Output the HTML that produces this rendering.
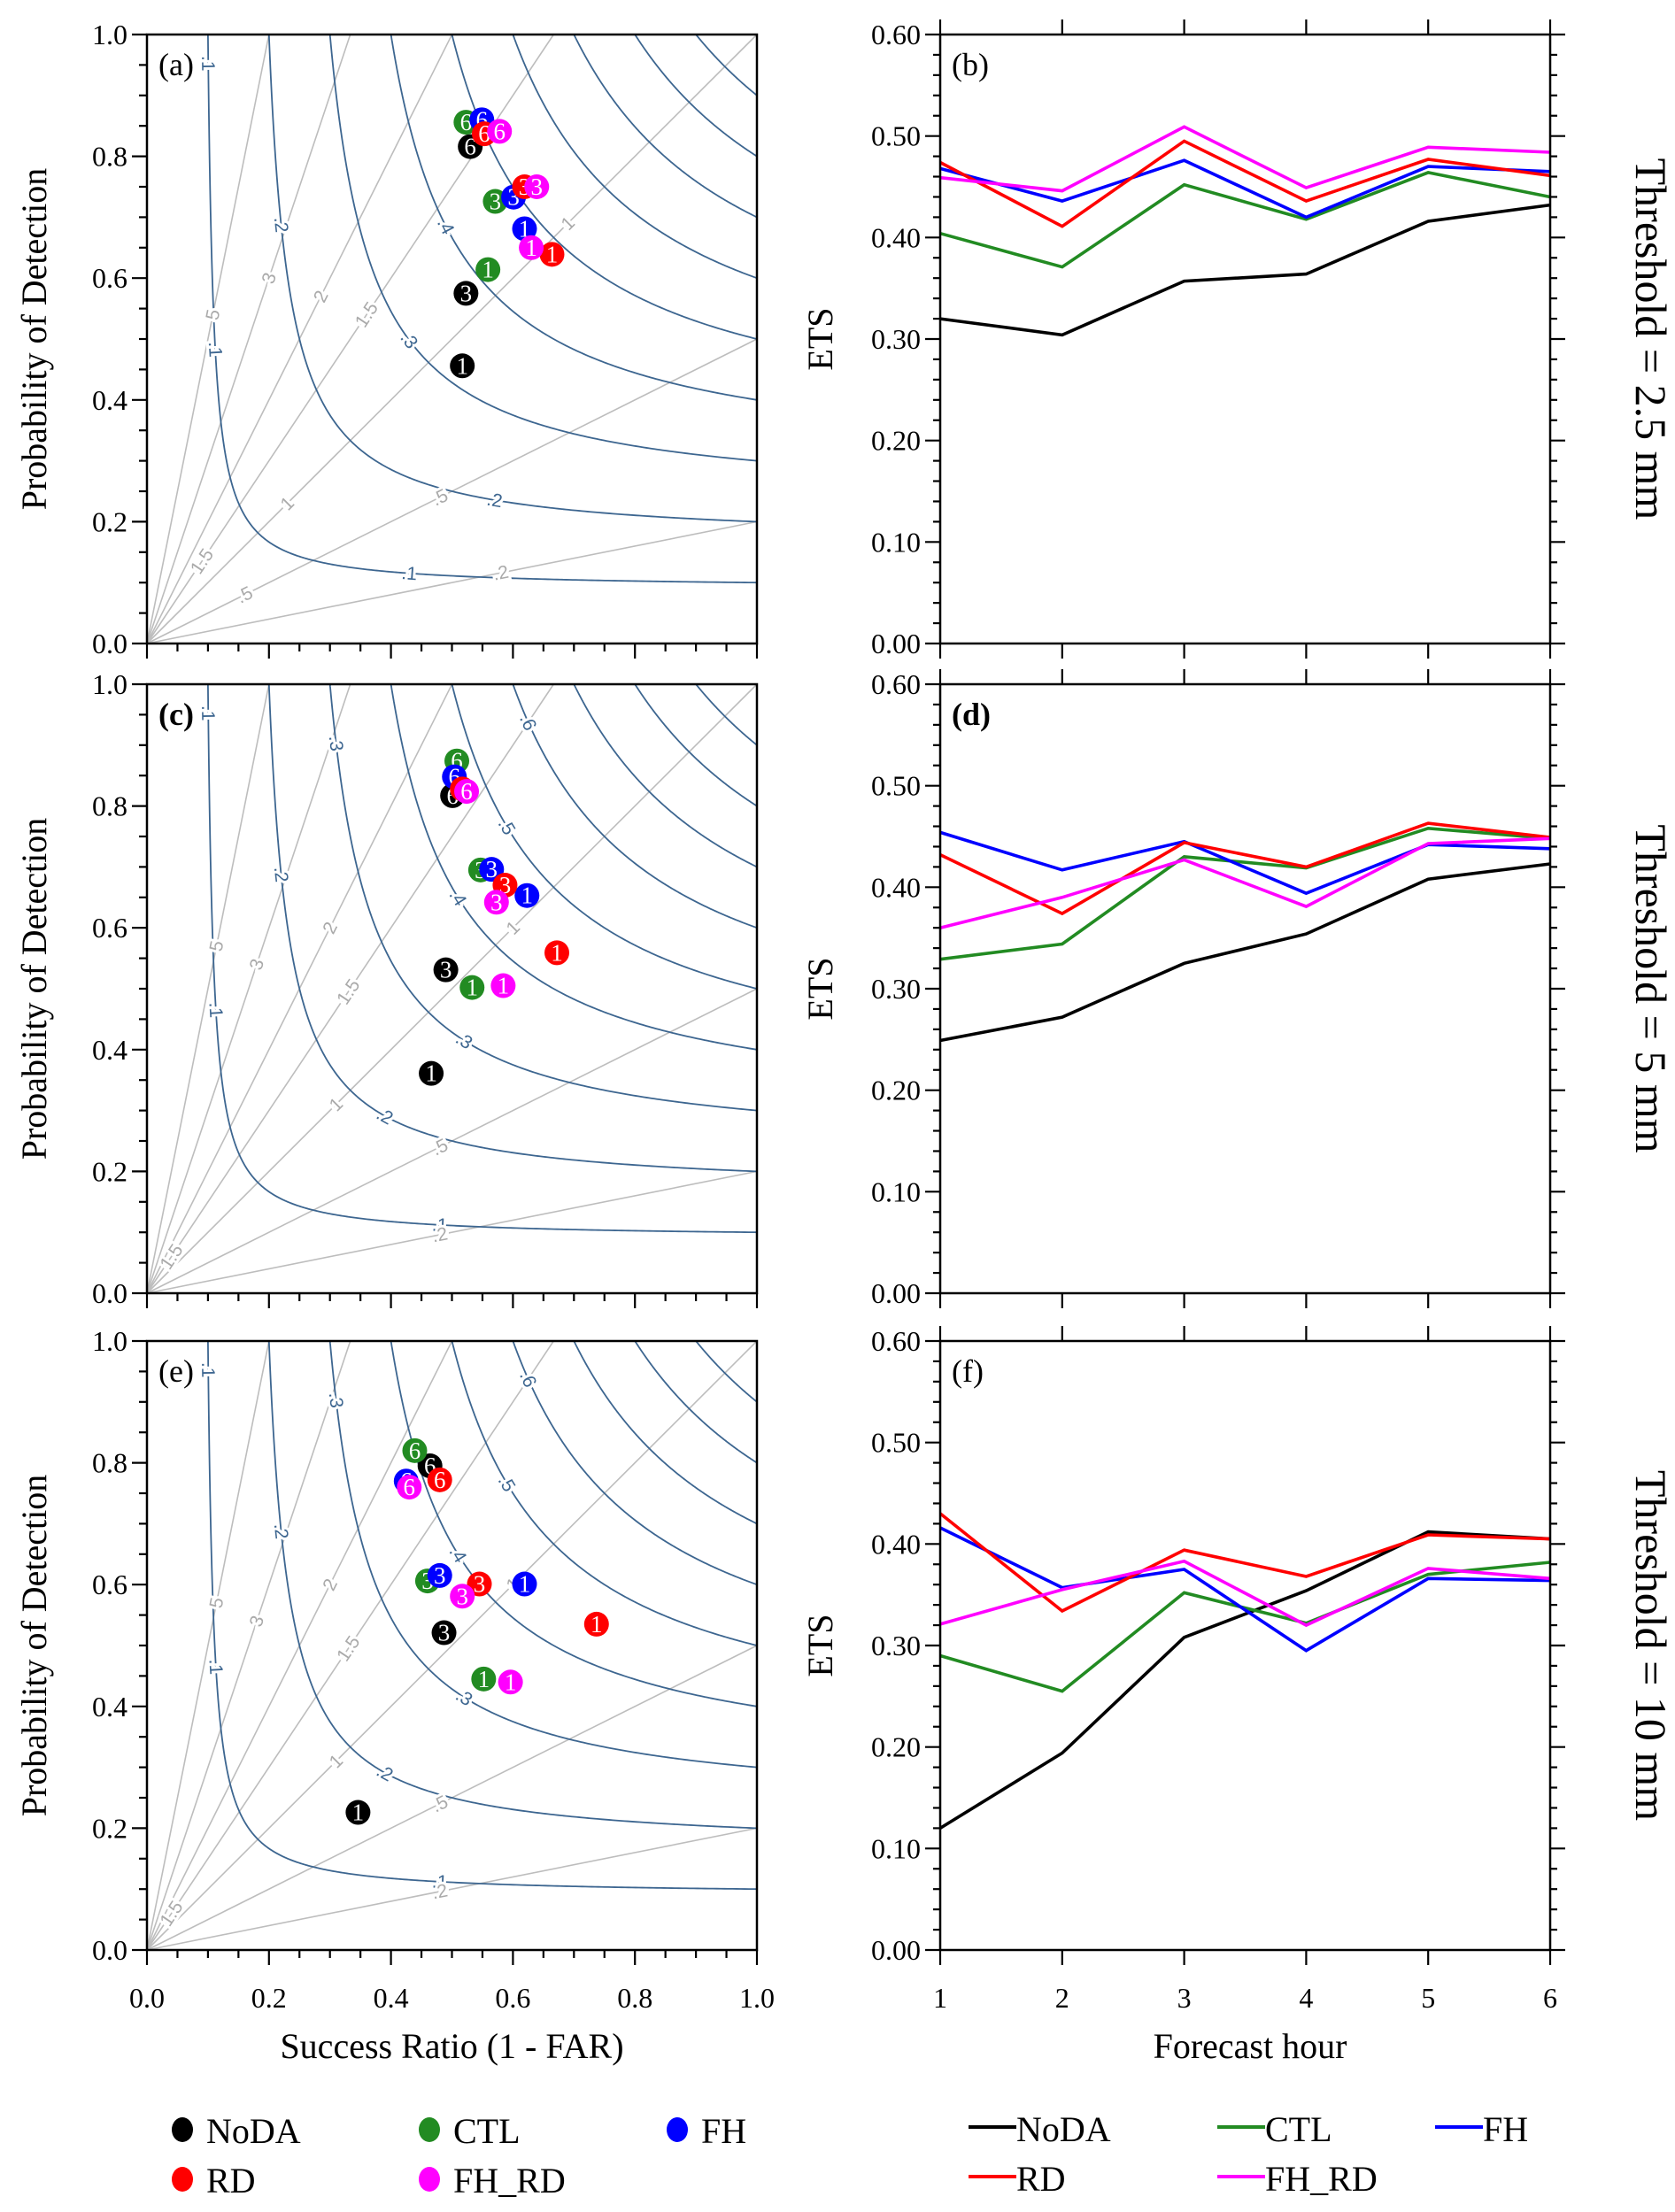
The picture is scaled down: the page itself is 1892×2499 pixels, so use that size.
<!DOCTYPE html>
<html><head><meta charset="utf-8"><title>Performance diagrams and ETS</title>
<style>
html,body{margin:0;padding:0;background:#fff;}
svg{display:block;font-family:"Liberation Serif",serif;}
</style></head>
<body>
<svg id="fig" width="1892" height="2499" viewBox="0 0 1892 2499" xmlns="http://www.w3.org/2000/svg"></svg>
<script>
// ---------- data ----------
const leadHours = [1, 3, 6];
const forecastHours = [1, 2, 3, 4, 5, 6];
const seriesNames = ["NoDA", "CTL", "FH", "RD", "FH_RD"];
const seriesColors = ["#000000", "#228B22", "#0000FF", "#FF0000", "#FF00FF"];
const perfTicks = ["0.0", "0.2", "0.4", "0.6", "0.8", "1.0"];
const etsTicks = ["0.00", "0.10", "0.20", "0.30", "0.40", "0.50", "0.60"];
const csiLevels = [0.1, 0.2, 0.3, 0.4, 0.5, 0.6, 0.7, 0.8, 0.9];
const biasLevels = [0.2, 0.5, 1, 1.5, 2, 3, 5];
const thresholds = ["Threshold = 2.5 mm", "Threshold = 5 mm", "Threshold = 10 mm"];

// panel (a): success ratio / POD for leads 1,3,6
const srA_NoDA = [0.517, 0.523, 0.530];  const podA_NoDA = [0.456, 0.575, 0.816];
const srA_CTL = [0.559, 0.571, 0.523];   const podA_CTL = [0.614, 0.726, 0.856];
const srA_FH = [0.619, 0.601, 0.549];    const podA_FH = [0.681, 0.733, 0.860];
const srA_RD = [0.664, 0.619, 0.553];    const podA_RD = [0.639, 0.750, 0.837];
const srA_FHRD = [0.630, 0.639, 0.578];  const podA_FHRD = [0.650, 0.750, 0.841];
// panel (c)
const srC_NoDA = [0.466, 0.490, 0.501];  const podC_NoDA = [0.361, 0.531, 0.817];
const srC_CTL = [0.533, 0.547, 0.508];   const podC_CTL = [0.502, 0.695, 0.874];
const srC_FH = [0.623, 0.565, 0.504];    const podC_FH = [0.653, 0.696, 0.848];
const srC_RD = [0.672, 0.587, 0.517];    const podC_RD = [0.559, 0.670, 0.828];
const srC_FHRD = [0.584, 0.573, 0.524];  const podC_FHRD = [0.505, 0.642, 0.824];
// panel (e)
const srE_NoDA = [0.346, 0.487, 0.464];  const podE_NoDA = [0.226, 0.521, 0.795];
const srE_CTL = [0.552, 0.460, 0.439];   const podE_CTL = [0.445, 0.606, 0.820];
const srE_FH = [0.619, 0.480, 0.425];    const podE_FH = [0.601, 0.615, 0.770];
const srE_RD = [0.737, 0.545, 0.480];    const podE_RD = [0.535, 0.601, 0.772];
const srE_FHRD = [0.596, 0.517, 0.430];  const podE_FHRD = [0.440, 0.581, 0.760];

// ETS panels
const etsB_NoDA = [0.320, 0.304, 0.357, 0.364, 0.416, 0.432];
const etsB_CTL = [0.404, 0.371, 0.452, 0.418, 0.464, 0.440];
const etsB_FH = [0.468, 0.436, 0.476, 0.420, 0.470, 0.465];
const etsB_RD = [0.474, 0.411, 0.495, 0.436, 0.477, 0.461];
const etsB_FHRD = [0.459, 0.446, 0.509, 0.449, 0.489, 0.484];
const etsD_NoDA = [0.249, 0.272, 0.325, 0.354, 0.408, 0.423];
const etsD_CTL = [0.329, 0.344, 0.430, 0.419, 0.458, 0.448];
const etsD_FH = [0.454, 0.417, 0.445, 0.394, 0.442, 0.438];
const etsD_RD = [0.432, 0.374, 0.444, 0.420, 0.463, 0.449];
const etsD_FHRD = [0.360, 0.390, 0.427, 0.381, 0.443, 0.448];
const etsF_NoDA = [0.120, 0.194, 0.308, 0.354, 0.412, 0.405];
const etsF_CTL = [0.290, 0.255, 0.352, 0.322, 0.370, 0.382];
const etsF_FH = [0.416, 0.357, 0.375, 0.295, 0.366, 0.364];
const etsF_RD = [0.430, 0.334, 0.394, 0.368, 0.409, 0.405];
const etsF_FHRD = [0.321, 0.355, 0.383, 0.320, 0.376, 0.366];

// ---------- layout ----------
const NS = "http://www.w3.org/2000/svg";
const svg = document.getElementById("fig");
const LX0 = 166, LX1 = 855, RX0 = 1062, RX1 = 1751;
const TOPS = [39, 773, 1515], PH = 688;
const CSI_COL = "#3d6690", BIAS_COL = "#bdbdbd";

function mk(tag, attrs, parent) {
  const e = document.createElementNS(NS, tag);
  for (const k in attrs) e.setAttribute(k, attrs[k]);
  (parent || svg).appendChild(e);
  return e;
}
function txt(str, attrs, parent) { const t = mk("text", attrs, parent); t.textContent = str; return t; }

function sx(v) { return LX0 + v * (LX1 - LX0); }
function py(v, top) { return top + PH - v * PH; }
function hx(h) { return RX0 + (h - 1) / 5 * (RX1 - RX0); }
function ey(v, top) { return top + PH - v / 0.6 * PH; }
function csiPod(c, s) { return 1 / (1 / c + 1 - 1 / s); }

const perfSets = [
  [[srA_NoDA, podA_NoDA], [srA_CTL, podA_CTL], [srA_FH, podA_FH], [srA_RD, podA_RD], [srA_FHRD, podA_FHRD]],
  [[srC_NoDA, podC_NoDA], [srC_CTL, podC_CTL], [srC_FH, podC_FH], [srC_RD, podC_RD], [srC_FHRD, podC_FHRD]],
  [[srE_NoDA, podE_NoDA], [srE_CTL, podE_CTL], [srE_FH, podE_FH], [srE_RD, podE_RD], [srE_FHRD, podE_FHRD]]
];
const etsSets = [
  [etsB_NoDA, etsB_CTL, etsB_FH, etsB_RD, etsB_FHRD],
  [etsD_NoDA, etsD_CTL, etsD_FH, etsD_RD, etsD_FHRD],
  [etsF_NoDA, etsF_CTL, etsF_FH, etsF_RD, etsF_FHRD]
];
const leftLetters = ["(a)", "(c)", "(e)"];
const rightLetters = ["(b)", "(d)", "(f)"];
const boldLetter = [false, true, false];

// contour label spots: [type, level, SR]
const labelsA = [["c",0.1,0.1005],["c",0.1,0.112],["c",0.1,0.43],["c",0.2,0.22],["c",0.2,0.57],["c",0.3,0.43],["c",0.4,0.49],
  ["b",5,0.108],["b",3,0.2],["b",2,0.285],["b",1.5,0.36],["b",1,0.23],["b",1,0.69],["b",0.5,0.48],["b",0.5,0.16],["b",1.5,0.09],["b",0.2,0.58]];
const labelsC = [["c",0.1,0.1005],["c",0.1,0.113],["c",0.1,0.48],["c",0.2,0.22],["c",0.2,0.39],["c",0.3,0.31],["c",0.3,0.52],["c",0.4,0.51],["c",0.5,0.59],["c",0.6,0.625],
  ["b",5,0.114],["b",3,0.18],["b",2,0.3],["b",1.5,0.33],["b",1,0.31],["b",1,0.6],["b",0.5,0.48],["b",0.2,0.48],["b",1.5,0.04]];
const panelLabels = [labelsA, labelsC, labelsC];

function fmt(v) { return v < 1 ? String(v).replace(/^0/, "") : String(v); }

for (let p = 0; p < 3; p++) {
  const top = TOPS[p];
  const g = mk("g", {});
  
  
  // bias lines
  biasLevels.forEach(b => {
    const ex = b >= 1 ? 1 / b : 1, eyv = b >= 1 ? 1 : b;
    const l = mk("line", {x1: sx(0), y1: py(0, top), x2: sx(ex), y2: py(eyv, top), stroke: BIAS_COL, "stroke-width": 1.6}, g);
    
    
  });
  // CSI curves
  csiLevels.forEach(c => {
    let d = "";
    for (let i = 0; i <= 400; i++) {
      const t = i / 400;
      const s = c + (1 - c) * Math.pow(t, 3);
      const pd = Math.min(1, csiPod(c, s));
      d += (i ? "L" : "M") + sx(s).toFixed(2) + "," + py(pd, top).toFixed(2);
    }
    const pth = mk("path", {d: d, fill: "none", stroke: CSI_COL, "stroke-width": 1.8}, g);
    
    
  });
  // contour labels
  panelLabels[p].forEach(([type, lev, s]) => {
    let x, y, ang;
    if (type === "c") {
      const pd = csiPod(lev, s), pd2 = csiPod(lev, s + 0.002);
      x = sx(s); y = py(pd, top);
      ang = Math.atan2(py(pd2, top) - y, sx(s + 0.002) - x) * 180 / Math.PI;
    } else {
      x = sx(s); y = py(lev * s, top);
      ang = Math.atan2(-lev * PH, PH) * 180 / Math.PI;
    }
    if (ang > 90) ang -= 180; if (ang < -90) ang += 180;
    const t = txt(fmt(lev), {x: x, y: y + 7, "text-anchor": "middle", "font-size": 21,
      "font-family": "Liberation Sans, sans-serif", fill: type === "c" ? CSI_COL : "#aaaaaa",
      stroke: "#fff", "stroke-width": 6, "paint-order": "stroke",
      transform: "rotate(" + ang.toFixed(1) + " " + x.toFixed(1) + " " + y.toFixed(1) + ")"}, g);
    
    
  });
  // frame
  const fr = mk("rect", {x: LX0, y: top, width: LX1 - LX0, height: PH, fill: "none", stroke: "#000", "stroke-width": 2.5}, g);
  
  
  // ticks
  for (let i = 0; i <= 20; i++) {
    const v = i / 20, maj = i % 4 === 0, len = maj ? 17 : 9;
    const ty = mk("line", {x1: LX0, x2: LX0 - len, y1: py(v, top), y2: py(v, top), stroke: "#000", "stroke-width": 2.2}, g);
    
    
    const tx = mk("line", {x1: sx(v), x2: sx(v), y1: top + PH, y2: top + PH + len, stroke: "#000", "stroke-width": 2.2}, g);
    
    
  }
  perfTicks.forEach((lab, i) => {
    const v = i / 5;
    const tl = txt(lab, {x: LX0 - 22, y: py(v, top) + 11, "text-anchor": "end", "font-size": 32}, g);
    
    
  });
  const yt = txt("Probability of Detection", {x: 0, y: 0, "text-anchor": "middle", "font-size": 40,
    transform: "translate(52," + (top + PH / 2) + ") rotate(-90)"}, g);
  
  
  const pl = txt(leftLetters[p], {x: LX0 + 13, y: top + 46, "font-size": 36, "font-weight": boldLetter[p] ? "bold" : "normal"}, g);
  
  
  // markers
  perfSets[p].forEach((pair, si) => {
    const srs = pair[0], pods = pair[1];
    leadHours.forEach((lh, k) => {
      const cx = sx(srs[k]), cy = py(pods[k], top);
      const m = mk("g", {}, g);
      
      
      mk("circle", {cx: cx, cy: cy, r: 14, fill: seriesColors[si]}, m);
      txt(String(lh), {x: cx, y: cy + 9, "text-anchor": "middle", "font-size": 27, fill: "#fff"}, m);
    });
  });
}

for (let p = 0; p < 3; p++) {
  const top = TOPS[p];
  const g = mk("g", {});
  
  
  etsSets[p].forEach((vals, si) => {
    const pts = forecastHours.map((h, i) => hx(h).toFixed(1) + "," + ey(vals[i], top).toFixed(1)).join(" ");
    const pl = mk("polyline", {points: pts, fill: "none", stroke: seriesColors[si], "stroke-width": 3.6, "stroke-linejoin": "miter"}, g);
    
    
  });
  const fr = mk("rect", {x: RX0, y: top, width: RX1 - RX0, height: PH, fill: "none", stroke: "#000", "stroke-width": 2.5}, g);
  
  
  for (let i = 0; i <= 30; i++) {
    const v = i * 0.02, maj = i % 5 === 0, len = maj ? 17 : 8;
    const a = mk("line", {x1: RX0, x2: RX0 - len, y1: ey(v, top), y2: ey(v, top), stroke: "#000", "stroke-width": 2.2}, g);
    
    
    const b = mk("line", {x1: RX1, x2: RX1 + len, y1: ey(v, top), y2: ey(v, top), stroke: "#000", "stroke-width": 2.2}, g);
    
    
  }
  forecastHours.forEach(h => {
    const a = mk("line", {x1: hx(h), x2: hx(h), y1: top, y2: top - 17, stroke: "#000", "stroke-width": 2.2}, g);
    
    
    const b = mk("line", {x1: hx(h), x2: hx(h), y1: top + PH, y2: top + PH + 17, stroke: "#000", "stroke-width": 2.2}, g);
    
    
  });
  etsTicks.forEach((lab, i) => {
    const tl = txt(lab, {x: RX0 - 22, y: ey(i * 0.1, top) + 11, "text-anchor": "end", "font-size": 32}, g);
    
    
  });
  const yt = txt("ETS", {x: 0, y: 0, "text-anchor": "middle", "font-size": 40,
    transform: "translate(940," + (top + PH / 2) + ") rotate(-90)"}, g);
  
  
  const pl = txt(rightLetters[p], {x: RX0 + 13, y: top + 46, "font-size": 36, "font-weight": boldLetter[p] ? "bold" : "normal"}, g);
  
  
  const th = txt(thresholds[p], {x: 0, y: 0, "text-anchor": "middle", "font-size": 50,
    transform: "translate(1848," + (top + PH / 2) + ") rotate(90)"}, g);
  
  
}

// bottom axis labels
perfTicks.forEach((lab, i) => {
  const t = txt(lab, {x: sx(i / 5), y: 2268, "text-anchor": "middle", "font-size": 32});
  
  
});
const xt1 = txt("Success Ratio (1 - FAR)", {x: (LX0 + LX1) / 2, y: 2325, "text-anchor": "middle", "font-size": 40});


forecastHours.forEach(h => {
  const t = txt(String(h), {x: hx(h), y: 2268, "text-anchor": "middle", "font-size": 32});
  
  
});
const xt2 = txt("Forecast hour", {x: 1412, y: 2325, "text-anchor": "middle", "font-size": 40});



// legends
const legMarkX = [206, 485, 765], legLineX = [1094, 1375, 1621], legRowY = [2406, 2462];
seriesNames.forEach((nm, i) => {
  const col = i % 3, row = Math.floor(i / 3);
  const lg = mk("g", {});
  
  
  mk("ellipse", {cx: legMarkX[col], cy: legRowY[row], rx: 12, ry: 14, fill: seriesColors[i]}, lg);
  txt(nm, {x: legMarkX[col] + 27, y: legRowY[row] + 15, "font-size": 40}, lg);
  const ll = mk("g", {});
  
  
  mk("line", {x1: legLineX[col], x2: legLineX[col] + 54, y1: legRowY[row] - 3, y2: legRowY[row] - 3, stroke: seriesColors[i], "stroke-width": 4}, ll);
  txt(nm, {x: legLineX[col] + 54, y: legRowY[row] + 13, "font-size": 40}, ll);
});
</script>
</body></html>
